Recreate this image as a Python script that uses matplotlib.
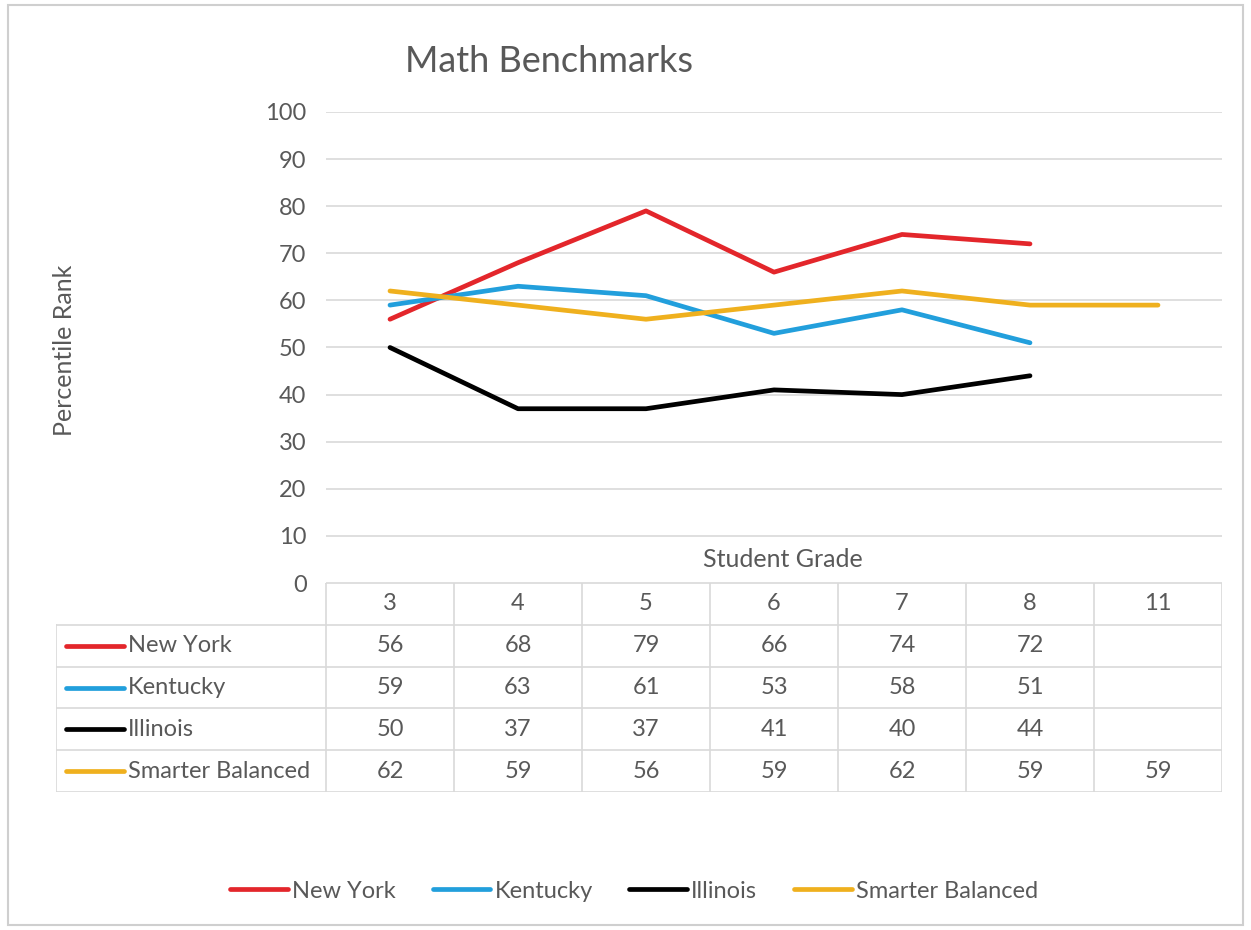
import numpy as np
import matplotlib.pyplot as plt
from matplotlib.patches import Rectangle

plt.rcParams['font.family'] = ['Lato', 'DejaVu Sans']

grades = ['3', '4', '5', '6', '7', '8', '11']
new_york = [56, 68, 79, 66, 74, 72, None]
kentucky = [59, 63, 61, 53, 58, 51, None]
illinois = [50, 37, 37, 41, 40, 44, None]
smarter_balanced = [62, 59, 56, 59, 62, 59, 59]

series = [
    ('New York', new_york, '#e3262b'),
    ('Kentucky', kentucky, '#229fdc'),
    ('Illinois', illinois, '#000000'),
    ('Smarter Balanced', smarter_balanced, '#efb01e'),
]

W, H = 1251, 930
txt = '#595959'
grid = '#d9d9d9'
fs = 17

fig = plt.figure(figsize=(W / 100, H / 100), dpi=100)
fig.patch.set_facecolor('white')
fig.add_artist(Rectangle((8 / W, 5 / H), (1243 - 8) / W, (925 - 5) / H,
                         transform=fig.transFigure, fill=False,
                         edgecolor='#cfcfcf', linewidth=1.5))

# main plot
ax = fig.add_axes([326 / W, (H - 583) / H, (1222 - 326) / W, (583 - 112) / H])
n = len(grades)
for name, vals, col in series:
    xs = [i for i, v in enumerate(vals) if v is not None]
    ys = [v for v in vals if v is not None]
    ax.plot(xs, ys, color=col, linewidth=3.4, solid_capstyle='round',
            solid_joinstyle='round', label=name, zorder=3)

ax.set_xlim(-0.5, n - 0.5)
ax.set_ylim(0, 100)
ax.set_yticks(range(0, 101, 10))
ax.yaxis.grid(True, color=grid, linewidth=1.2)
ax.set_xticks([])
for s in ax.spines.values():
    s.set_visible(False)
ax.tick_params(axis='y', length=0, pad=14, labelsize=fs, labelcolor=txt)
fig.text(65 / W, (H - 350) / H, 'Percentile Rank', rotation=90, ha='center',
         va='center', fontsize=18, color=txt)
ax.text(0.51, 0.05, 'Student Grade', transform=ax.transAxes, ha='center',
        va='center', fontsize=18, color=txt)
fig.text(549 / W, (H - 62) / H, 'Math Benchmarks', ha='center', va='center',
         fontsize=26, color=txt)

# data table
label_w = (326 - 56) / ((1222 - 326) / n)
tab = fig.add_axes([56 / W, (H - 792) / H, (1222 - 56) / W, (792 - 583) / H])
tab.set_xlim(-0.5 - label_w, n - 0.5)
rows = len(series) + 1
tab.set_ylim(rows, 0)
tab.axis('off')
x0 = -0.5 - label_w
lw = 1.2
tab.plot([-0.5, n - 0.5], [0, 0], color=grid, lw=lw)
for r in range(1, rows + 1):
    tab.plot([x0, n - 0.5], [r, r], color=grid, lw=lw)
tab.plot([x0, x0], [1, rows], color=grid, lw=lw)
for c in range(n + 1):
    tab.plot([c - 0.5, c - 0.5], [0, rows], color=grid, lw=lw)
for c, g in enumerate(grades):
    tab.text(c, 0.5, g, ha='center', va='center', fontsize=fs, color=txt)
for r, (name, vals, col) in enumerate(series, start=1):
    tab.plot([x0 + 0.08, x0 + 0.53], [r + 0.5, r + 0.5], color=col, lw=3.4,
             solid_capstyle='round')
    tab.text(x0 + 0.56, r + 0.5, name, ha='left', va='center', fontsize=fs,
             color=txt)
    for c, v in enumerate(vals):
        if v is not None:
            tab.text(c, r + 0.5, str(v), ha='center', va='center',
                     fontsize=fs, color=txt)

leg = fig.legend(*ax.get_legend_handles_labels(), loc='center', ncol=4,
                 bbox_to_anchor=(634 / W, (H - 891) / H), frameon=False,
                 fontsize=fs, handlelength=2.45, handletextpad=0.17,
                 columnspacing=1.55, labelcolor=txt)

fig.savefig('out.png', dpi=100)
